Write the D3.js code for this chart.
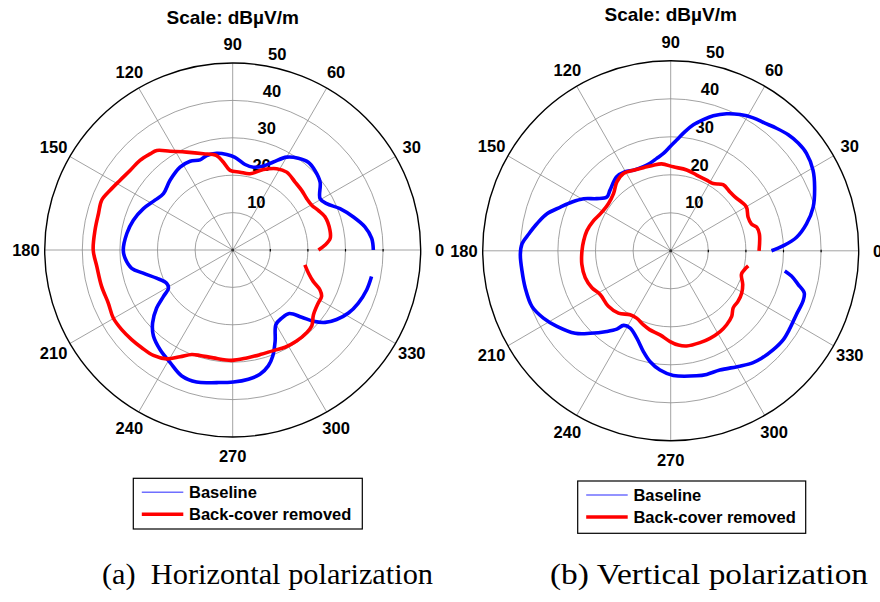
<!DOCTYPE html>
<html>
<head>
<meta charset="utf-8">
<script src="https://d3js.org/d3.v7.min.js"></script>
<style>
body { margin: 0; background: #fff; }
svg { display: block; }
text.lbl { font-family: "Liberation Sans", Arial, sans-serif; font-weight: bold; font-size: 16.5px; fill: #000; }
text.title { font-family: "Liberation Sans", Arial, sans-serif; font-weight: bold; font-size: 19px; text-anchor: middle; }
text.leg { font-family: "Liberation Sans", Arial, sans-serif; font-weight: bold; font-size: 16.5px; }
text.cap { font-family: "Liberation Serif", "Times New Roman", serif; font-size: 30px; white-space: pre; }
</style>
</head>
<body>
<div id="plot"></div>
<script>

var width = 880, height = 602;

// polar grid
var angleTicks = [0, 30, 60, 90, 120, 150, 180, 210, 240, 270, 300, 330];
var ringTicks = [10, 20, 30, 40, 50];
var rMax = 50;

var seriesNames = ["Baseline", "Back-cover removed"];
var captions = ["(a)  Horizontal polarization", "(b) Vertical polarization"];
var titleText = "Scale: dB\u00B5V/m";

// (a) horizontal polarization, baseline
var hBaseAngle = [0, 4.8, 10.0, 15.4, 21.2, 26.4, 30.6, 38.0, 44.2, 49.4, 54.6, 59.9, 65.3, 70.0, 76.1, 81.8, 88.6, 93.6, 99.3, 105.3, 109.8, 115.5, 122.3, 131.8, 140.7, 147.2, 155.0, 163.2, 171.1, 180, 184.4, 190.3, 194.6, 200.4, 206.8, 210.8, 214.0, 217.5, 222.5, 227.5, 234.0, 241.1, 248.1, 254.8, 263.2, 270.3, 276.9, 282.3, 287.0, 290.6, 294.8, 300.0, 305.6, 311.5, 315.6, 318.4, 321.8, 326.1, 331.3, 337.0, 343.4, 349.1];
var hBaseDb = [37.4, 37.1, 35.7, 33.3, 30.6, 27.9, 27.0, 29.5, 30.5, 30.9, 30.1, 28.7, 25.9, 23.9, 22.8, 23.1, 24.8, 25.6, 26.2, 26.2, 25.6, 26.3, 26.2, 25.0, 23.8, 24.6, 26.2, 27.6, 28.5, 29.1, 28.7, 27.3, 24.6, 21.6, 19.7, 19.9, 22.2, 25.5, 28.9, 31.2, 32.9, 34.4, 36.3, 36.6, 35.7, 35.3, 34.8, 34.0, 32.4, 30.3, 26.9, 23.0, 22.4, 22.7, 25.7, 28.7, 31.3, 33.3, 35.1, 36.3, 37.2, 37.6];

// (a) horizontal polarization, back-cover removed
var hRemAngle = [0, 3.1, 6.8, 11.6, 19.9, 25.0, 29.7, 34.9, 41.0, 47.6, 55.4, 61.7, 69.2, 77.3, 84.7, 91.9, 96.0, 99.6, 106.9, 115.1, 122.2, 127.2, 130.5, 135.8, 142.1, 148.2, 153.9, 159.1, 164.7, 171.7, 180, 187.0, 195.6, 203.2, 209.8, 215.8, 221.7, 227.2, 233.2, 238.9, 243.9, 248.7, 252.9, 259.9, 269.5, 277.4, 284.6, 291.9, 298.2, 304.9, 311.6, 316.1, 321.1, 328.1, 332.3, 335.4, 338.6, 342.9, 348.3];
var hRemDb = [22.8, 24.6, 26.1, 26.4, 26.1, 25.1, 24.2, 24.0, 24.3, 24.6, 25.3, 24.7, 23.0, 20.9, 20.9, 21.3, 23.6, 25.6, 26.9, 28.9, 31.2, 33.4, 33.8, 34.4, 34.6, 35.3, 36.3, 37.3, 37.0, 37.0, 37.1, 36.4, 36.2, 36.0, 36.6, 36.4, 36.0, 35.6, 35.2, 34.0, 31.8, 30.0, 29.5, 29.3, 29.5, 29.1, 28.9, 29.0, 29.5, 29.7, 29.6, 29.2, 27.6, 26.8, 26.7, 25.5, 23.0, 21.1, 19.6];

// (b) vertical polarization, baseline
var vBaseAngle = [0, 2.5, 6.0, 11.1, 16.9, 23.7, 29.3, 35.4, 39.9, 44.3, 48.9, 53.3, 57.9, 62.8, 67.6, 72.3, 75.9, 79.7, 83.1, 86.9, 90.4, 94.3, 98.7, 103.4, 108.2, 115.0, 120.2, 126.4, 135.3, 140.2, 145.1, 149.4, 153.9, 158.6, 163.5, 168.7, 173.3, 177.4, 181.3, 187.6, 194.1, 201.6, 207.6, 213.3, 220.5, 225.4, 231.3, 235.2, 237.4, 242.1, 248.6, 254.7, 259.4, 264.8, 271.2, 281.8, 286.4, 292.6, 301.2, 306.7, 310.5, 316.2, 321.9, 327.3, 333.3, 339.4, 342.7, 345.4, 348.3, 350.1];
var vBaseDb = [26.8, 29.9, 33.6, 36.8, 39.6, 41.8, 43.4, 44.3, 44.2, 43.7, 42.8, 41.9, 41.3, 40.3, 39.0, 37.3, 35.6, 33.7, 31.6, 29.2, 27.4, 25.7, 24.6, 23.7, 23.3, 23.4, 24.1, 24.2, 22.7, 22.1, 24.0, 26.9, 29.2, 31.5, 34.3, 36.3, 38.0, 39.6, 40.0, 39.9, 39.9, 39.7, 38.2, 36.2, 33.4, 30.5, 27.2, 25.1, 23.3, 23.0, 24.7, 27.5, 29.7, 31.5, 32.8, 33.6, 33.9, 34.0, 35.5, 36.7, 37.2, 37.7, 38.0, 37.7, 37.4, 37.6, 37.2, 35.0, 32.8, 30.8];

// (b) vertical polarization, back-cover removed
var vRemAngle = [0, 10.6, 15.2, 18.2, 23.2, 29.7, 34.2, 39.7, 44.5, 51.3, 57.4, 62.8, 70.9, 78.7, 88.2, 96.0, 101.5, 106.1, 115.0, 121.7, 128.3, 135.3, 143.2, 152.6, 158.8, 166.6, 173.5, 180, 188.5, 197.3, 204.9, 211.5, 221.4, 229.7, 237.3, 242.9, 249.6, 254.8, 262.7, 269.6, 274.7, 279.6, 287.9, 294.4, 301.7, 307.4, 313.2, 317.9, 323.5, 329.6, 335.2, 341.8, 346.1, 349.1];
var vRemDb = [23.5, 24.0, 23.7, 22.6, 22.4, 23.2, 22.8, 22.2, 22.1, 22.3, 21.0, 20.9, 21.1, 21.7, 22.1, 23.0, 23.0, 23.0, 23.4, 23.9, 23.1, 21.4, 20.7, 21.1, 22.0, 22.9, 23.3, 23.6, 23.9, 23.8, 23.1, 22.0, 22.1, 21.5, 20.0, 19.9, 20.8, 21.5, 22.3, 23.9, 24.9, 25.4, 25.4, 25.3, 25.0, 24.5, 23.7, 22.4, 22.3, 21.9, 21.1, 19.8, 20.3, 21.0];

var svg = d3.select("#plot").append("svg")
  .attr("width", width).attr("height", height);

var panels = [
  { cx: 232.7, cy: 250, rx: 188, ry: 187, legend: [133.3, 478.3, 229, 50.7], capX: 102, capW: 331,
    series: [[hBaseAngle, hBaseDb], [hRemAngle, hRemDb]], caption: captions[0] },
  { cx: 670.7, cy: 250.8, rx: 188, ry: 190, legend: [577.7, 481, 228, 52.3], capX: 550, capW: 318,
    series: [[vBaseAngle, vBaseDb], [vRemAngle, vRemDb]], caption: captions[1] }
];

var colors = ["#0000ff", "#ff0000"];

panels.forEach(drawPanel);

function drawPanel(p) {
  var g = svg.append("g");
  var rScale = d3.scaleLinear().domain([0, rMax]).range([0, p.rx]);
  var ky = p.ry / p.rx;

  function project(deg, db) {
    var a = deg * Math.PI / 180, r = rScale(db);
    return [p.cx + r * Math.cos(a), p.cy - r * Math.sin(a) * ky];
  }

  // rings
  g.selectAll("ellipse.ring").data(ringTicks.slice(0, -1)).enter()
    .append("ellipse")
    .attr("cx", p.cx).attr("cy", p.cy)
    .attr("rx", d => rScale(d)).attr("ry", d => rScale(d) * ky)
    .style("fill", "none").style("stroke", "#8a8a8a").style("stroke-width", 0.8);

  // spokes
  g.selectAll("line.spoke").data(angleTicks).enter()
    .append("line")
    .attr("x1", p.cx).attr("y1", p.cy)
    .attr("x2", d => project(d, rMax)[0])
    .attr("y2", d => project(d, rMax)[1])
    .style("stroke", "#8a8a8a").style("stroke-width", 0.8);

  // little ticks on the 0 axis
  g.selectAll("line.tick").data(ringTicks.slice(0, -1)).enter()
    .append("line")
    .attr("x1", d => project(0, d)[0]).attr("x2", d => project(0, d)[0])
    .attr("y1", p.cy - 1).attr("y2", p.cy + 1.5)
    .style("stroke", "#000").style("stroke-width", 1.2);
  g.append("circle").attr("cx", p.cx).attr("cy", p.cy).attr("r", 1.5).style("fill", "#333");

  // outer circle
  g.append("ellipse")
    .attr("cx", p.cx).attr("cy", p.cy)
    .attr("rx", rScale(rMax)).attr("ry", rScale(rMax) * ky)
    .style("fill", "none").style("stroke", "#000").style("stroke-width", 1.4);

  // ring labels along 82 degrees
  g.selectAll("text.ringlbl").data(ringTicks).enter()
    .append("text").attr("class", "lbl")
    .attr("x", d => project(82, d)[0] + 18.4)
    .attr("y", d => project(82, d)[1] - 10.8)
    .attr("text-anchor", "middle").attr("dominant-baseline", "central")
    .text(d => d);

  // angle labels
  g.selectAll("text.anglbl").data(angleTicks).enter()
    .append("text").attr("class", "lbl")
    .attr("x", d => project(d, rMax * 1.1)[0])
    .attr("y", d => project(d, rMax * 1.1)[1])
    .attr("text-anchor", "middle").attr("dominant-baseline", "central")
    .text(d => d);

  // curves
  var line = d3.line().curve(d3.curveCatmullRom.alpha(0.5));
  p.series.forEach(function (s, i) {
    var pts = s[0].map((a, j) => project(a, s[1][j]));
    g.append("path")
      .attr("d", line(pts))
      .style("fill", "none").style("stroke", colors[i])
      .style("stroke-width", 3.6).style("stroke-linejoin", "round");
  });

  g.append("text").attr("class", "title")
    .attr("x", p.cx).attr("y", p.cy - p.ry * 1.208)
    .text(titleText);

  // legend
  var L = p.legend;
  g.append("rect").attr("x", L[0]).attr("y", L[1]).attr("width", L[2]).attr("height", L[3])
    .style("fill", "#fff").style("stroke", "#000").style("stroke-width", 1.2);
  var rowY = [L[1] + 14, L[1] + 36];
  g.append("line").attr("x1", L[0] + 8.5).attr("x2", L[0] + 50).attr("y1", rowY[0]).attr("y2", rowY[0])
    .style("stroke", "#6f6fff").style("stroke-width", 1.5);
  g.append("line").attr("x1", L[0] + 8.5).attr("x2", L[0] + 50).attr("y1", rowY[1]).attr("y2", rowY[1])
    .style("stroke", "#ff0000").style("stroke-width", 3.5);
  seriesNames.forEach(function (name, i) {
    g.append("text").attr("class", "leg")
      .attr("x", L[0] + 55.7).attr("y", rowY[i] + 6)
      .text(name);
  });

  g.append("text").attr("class", "cap")
    .attr("x", p.capX).attr("y", 584)
    .attr("textLength", p.capW).attr("lengthAdjust", "spacingAndGlyphs")
    .text(p.caption);
}

</script>
</body>
</html>
